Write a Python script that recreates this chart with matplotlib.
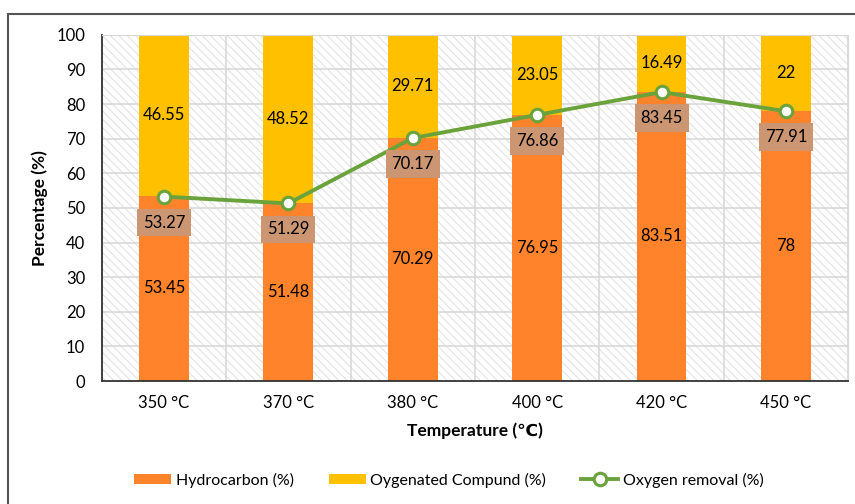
import numpy as np
import matplotlib.pyplot as plt
from matplotlib.patches import Rectangle

plt.rcParams['font.family'] = ['Lato', 'DejaVu Sans']
plt.rcParams['hatch.linewidth'] = 0.7

temps = ["350 °C", "370 °C", "380 °C", "400 °C", "420 °C", "450 °C"]
hydrocarbon = [53.45, 51.48, 70.29, 76.95, 83.51, 78]
oxygenated = [46.55, 48.52, 29.71, 23.05, 16.49, 22]
oxygen_removal = [53.27, 51.29, 70.17, 76.86, 83.45, 77.91]

x = np.arange(len(temps))
width = 0.4
fs = 12

fig = plt.figure(figsize=(8.55, 5.04), dpi=100)
ax = fig.add_axes([0.119, 0.244, 0.873, 0.687])

# hatched background
ax.add_patch(Rectangle((0, 0), 1, 1, transform=ax.transAxes,
                       facecolor='white', edgecolor='#e0e0e0', lw=0,
                       hatch='\\\\\\\\', zorder=0))

for y in range(10, 101, 10):
    ax.axhline(y, color='#d9d9d9', lw=1.2, zorder=1)
for xv in np.arange(len(temps) + 1) - 0.5:
    ax.axvline(xv, color='#d9d9d9', lw=1.2, zorder=1)

b1 = ax.bar(x, hydrocarbon, width, color='#FF832B', label='Hydrocarbon (%)', zorder=2)
b2 = ax.bar(x, oxygenated, width, bottom=hydrocarbon, color='#FFC000',
            label='Oygenated Compund (%)', zorder=2)

ln, = ax.plot(x, oxygen_removal, color='#6AA33C', lw=2.8, marker='o', ms=9,
              markerfacecolor='white', markeredgecolor='#6AA33C', markeredgewidth=2.2,
              label='Oxygen removal (%)', zorder=4)

for i in range(len(temps)):
    ax.text(x[i], hydrocarbon[i] / 2, f"{hydrocarbon[i]:g}", ha='center',
            va='center', fontsize=fs, zorder=5)
    ax.text(x[i], hydrocarbon[i] + oxygenated[i] / 2, f"{oxygenated[i]:g}",
            ha='center', va='center', fontsize=fs, zorder=5)
    ax.annotate(f"{oxygen_removal[i]:g}", (x[i], oxygen_removal[i]),
                xytext=(0, -26), textcoords='offset pixels',
                ha='center', va='center', fontsize=fs, zorder=5,
                bbox=dict(boxstyle='square,pad=0.35', facecolor='#CC9672',
                          edgecolor='none'))

ax.set_xlim(-0.5, len(temps) - 0.5)
ax.set_ylim(0, 100)
ax.set_yticks(range(0, 101, 10))
ax.set_xticks(x)
ax.set_xticklabels(temps)
ax.tick_params(axis='both', length=0, labelsize=fs, pad=10)
ax.tick_params(axis='y', pad=12)

for side in ['top', 'right']:
    ax.spines[side].set_color('#d9d9d9')
for side in ['left', 'bottom']:
    ax.spines[side].set_color('#333333')
    ax.spines[side].set_linewidth(1.3)

ax.set_xlabel('Temperature (℃)', fontsize=12.5, fontweight='bold', labelpad=8)
ax.set_ylabel('Percentage (%)', fontsize=12.5, fontweight='bold', labelpad=6)

fig.legend([b1, b2, ln], ['Hydrocarbon (%)', 'Oygenated Compund (%)', 'Oxygen removal (%)'],
           loc='center', bbox_to_anchor=(0.525, 0.047), ncol=3, frameon=False,
           fontsize=11.5, handlelength=2.3, handleheight=0.6, handletextpad=0.3,
           columnspacing=2.2)

# chart border
fig.add_artist(Rectangle((8 / 855, -0.1), 1.2, 1 - 14 / 504 + 0.1,
                         transform=fig.transFigure, fill=False,
                         edgecolor='#555555', lw=1.5))

fig.savefig('out.png', dpi=100)
